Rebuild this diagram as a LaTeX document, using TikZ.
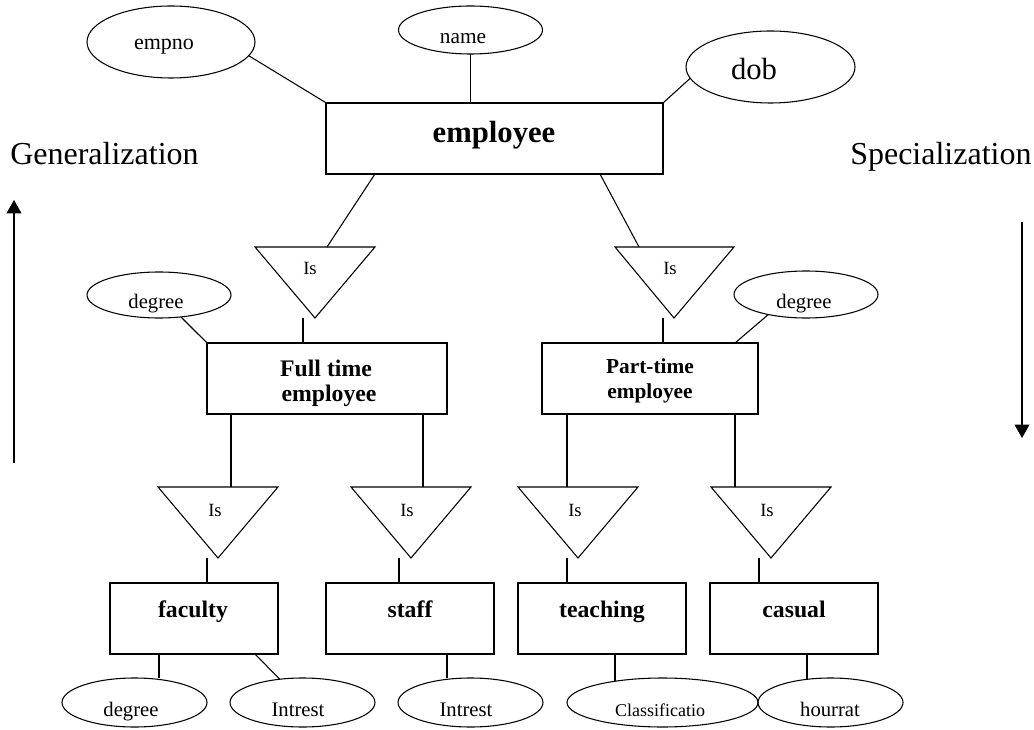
\documentclass[tikz,border=0pt]{standalone}
\usepackage{fontspec}
\setmainfont{Liberation Serif}
\usetikzlibrary{shapes.geometric,arrows.meta,calc}
\newcommand\fsz[1]{\fontsize{#1}{#1}\selectfont}
\begin{document}
\begin{tikzpicture}[x=0.75pt,y=-0.75pt,
  lw/.style={line width=0.8pt},
  ent/.style={draw,lw,rectangle,inner sep=0pt,minimum height=53.25pt},
  attr/.style={draw,lw,ellipse,inner sep=0pt,outer sep=0pt},
  txt/.style={anchor=base,inner sep=0pt},
  conn/.style={lw},
  isa/.style={draw,lw,line join=miter},
  dirarrow/.style={line width=1.3pt,-{Triangle[length=10pt,width=11pt]}}
]
\useasboundingbox (0,0) rectangle (1034,730);

% ---------- entities ----------
\node[ent,minimum width=252.75pt] (emp) at (494.5,138.5) {};
\node[ent,minimum width=180pt] (ft) at (327,378.5) {};
\node[ent,minimum width=162pt] (pt) at (650,378.5) {};
\node[ent,minimum width=126pt] (fac) at (194,618.5) {};
\node[ent,minimum width=126pt] (stf) at (410,618.5) {};
\node[ent,minimum width=126pt] (tch) at (602,618.5) {};
\node[ent,minimum width=126pt] (cas) at (794,618.5) {};

\node[txt,font=\fsz{23}\bfseries] (empT) at (494,143) {employee};
\node[txt,font=\fsz{17.8}\bfseries] (ftT1) at (326,377) {Full time};
\node[txt,font=\fsz{17.8}\bfseries] (ftT2) at (329,402) {employee};
\node[txt,font=\fsz{16}\bfseries] (ptT1) at (650,374) {Part-time};
\node[txt,font=\fsz{16}\bfseries] (ptT2) at (650,398) {employee};
\node[txt,font=\fsz{17.8}\bfseries] (facT) at (193,617) {faculty};
\node[txt,font=\fsz{17.8}\bfseries] (stfT) at (410,617) {staff};
\node[txt,font=\fsz{17.8}\bfseries] (tchT) at (602,617) {teaching};
\node[txt,font=\fsz{17.8}\bfseries] (casT) at (794,617) {casual};

% ---------- attributes ----------
\node[attr,minimum width=126pt,minimum height=54pt] (empno) at (171,42) {};
\node[attr,minimum width=108pt,minimum height=36pt] (name) at (470.5,30) {};
\node[attr,minimum width=126.75pt,minimum height=54pt] (dob) at (770.5,67) {};
\node[attr,minimum width=108pt,minimum height=34.5pt] (degL) at (159,295) {};
\node[attr,minimum width=108pt,minimum height=35.25pt] (degR) at (806,294.5) {};
\node[attr,minimum width=108.75pt,minimum height=36.75pt] (degB) at (134.5,702.5) {};
\node[attr,minimum width=108.75pt,minimum height=36.75pt] (int1) at (302.5,702.5) {};
\node[attr,minimum width=108.75pt,minimum height=36.75pt] (int2) at (470.5,702.5) {};
\node[attr,minimum width=143.25pt,minimum height=36.75pt] (cls) at (662.5,702.5) {};
\node[attr,minimum width=108.75pt,minimum height=36.75pt] (hour) at (830.5,702.5) {};

\node[txt,font=\fsz{16.5}] (empnoT) at (164,50) {empno};
\node[txt,font=\fsz{16}] (nameT) at (463,44) {name};
\node[txt,font=\fsz{23}] (dobT) at (754,80) {dob};
\node[txt,font=\fsz{15.5}] (degLT) at (156,309) {degree};
\node[txt,font=\fsz{15.5}] (degRT) at (804,309) {degree};
\node[txt,font=\fsz{15.5}] (degBT) at (131,716) {degree};
\node[txt,font=\fsz{15.5}] (int1T) at (298,716) {Intrest};
\node[txt,font=\fsz{15.5}] (int2T) at (466,716) {Intrest};
\node[txt,font=\fsz{13.5}] (clsT) at (660,716) {Classificatio};
\node[txt,font=\fsz{15.5}] (hourT) at (830,716) {hourrat};

% ---------- Is triangles ----------
\coordinate (t1a) at (255,247); \coordinate (t1b) at (375,247); \coordinate (t1c) at (315,318);
\coordinate (t2a) at (615,247); \coordinate (t2b) at (734,247); \coordinate (t2c) at (674,318);
\coordinate (t3a) at (158,487); \coordinate (t3b) at (278,487); \coordinate (t3c) at (218,558);
\coordinate (t4a) at (351,487); \coordinate (t4b) at (471,487); \coordinate (t4c) at (411,558);
\coordinate (t5a) at (518,487); \coordinate (t5b) at (638,487); \coordinate (t5c) at (578,558);
\coordinate (t6a) at (711,487); \coordinate (t6b) at (831,487); \coordinate (t6c) at (771,558);
\foreach \t in {t1,t2,t3,t4,t5,t6}{
  \draw[isa] (\t a) -- (\t b) -- (\t c) -- cycle;
}
\node[txt,font=\fsz{14}] (is1) at (310,275) {Is};
\node[txt,font=\fsz{14}] (is2) at (670,275) {Is};
\node[txt,font=\fsz{14}] (is3) at (215,516) {Is};
\node[txt,font=\fsz{14}] (is4) at (407,516) {Is};
\node[txt,font=\fsz{14}] (is5) at (575,516) {Is};
\node[txt,font=\fsz{14}] (is6) at (767,516) {Is};

% ---------- connectors ----------
\draw[conn] (empno.-10) -- (emp.north west);
\draw[conn] (name.south) -- (name.south |- emp.north);
\draw[conn] (dob.188) -- (emp.north east);

\coordinate (a1) at (375,174); \coordinate (a2) at (327,247);
\coordinate (a3) at (600,174); \coordinate (a4) at (639,247);
\draw[conn] (a1) -- (a2);
\draw[conn] (a3) -- (a4);

\coordinate (b1) at (303,318); \coordinate (b2) at (663,318);
\draw[conn] (b1) -- (b1 |- ft.north);
\draw[conn] (b2) -- (b2 |- pt.north);
\draw[conn] (degL) -- (ft.north west);
\coordinate (b3) at (735,343);
\draw[conn] (degR.-152) -- (b3);

\foreach \x/\n in {231/ft,423/ft,567/pt,735/pt}{
  \coordinate (c) at (\x,487);
  \draw[conn] (c |- \n.south) -- (c);
}
\coordinate (d1) at (207,558); \coordinate (d2) at (399,558);
\coordinate (d3) at (567,558); \coordinate (d4) at (759,558);
\draw[conn] (d1) -- (d1 |- fac.north);
\draw[conn] (d2) -- (d2 |- stf.north);
\draw[conn] (d3) -- (d3 |- tch.north);
\draw[conn] (d4) -- (d4 |- cas.north);

\coordinate (e1) at (159,654); \coordinate (e2) at (255,654);
\coordinate (e3) at (447,654); \coordinate (e4) at (615,654);
\coordinate (e5) at (807,654);
\draw[conn] (e1) -- (e1 |- degB.north);
\draw[conn] (e2) -- (int1);
\draw[conn] (e3) -- (e3 |- int2.north);
\draw[conn] (e4) -- ($(e4 |- cls.north)+(0,2.5)$);
\draw[conn] (e5) -- ($(e5 |- hour.north)+(0,1)$);

% ---------- direction labels and arrows ----------
\node[anchor=base west,inner sep=0pt,font=\fsz{24}] (gen) at (10,165) {Generalization};
\node[anchor=base west,inner sep=0pt,font=\fsz{24}] (spec) at (850,165) {Specialization};
\coordinate (gA) at (14,463); \coordinate (gB) at (14,200);
\coordinate (sA) at (1022,222); \coordinate (sB) at (1022,438);
\draw[dirarrow] (gA) -- (gB);
\draw[dirarrow] (sA) -- (sB);
\end{tikzpicture}
\end{document}
